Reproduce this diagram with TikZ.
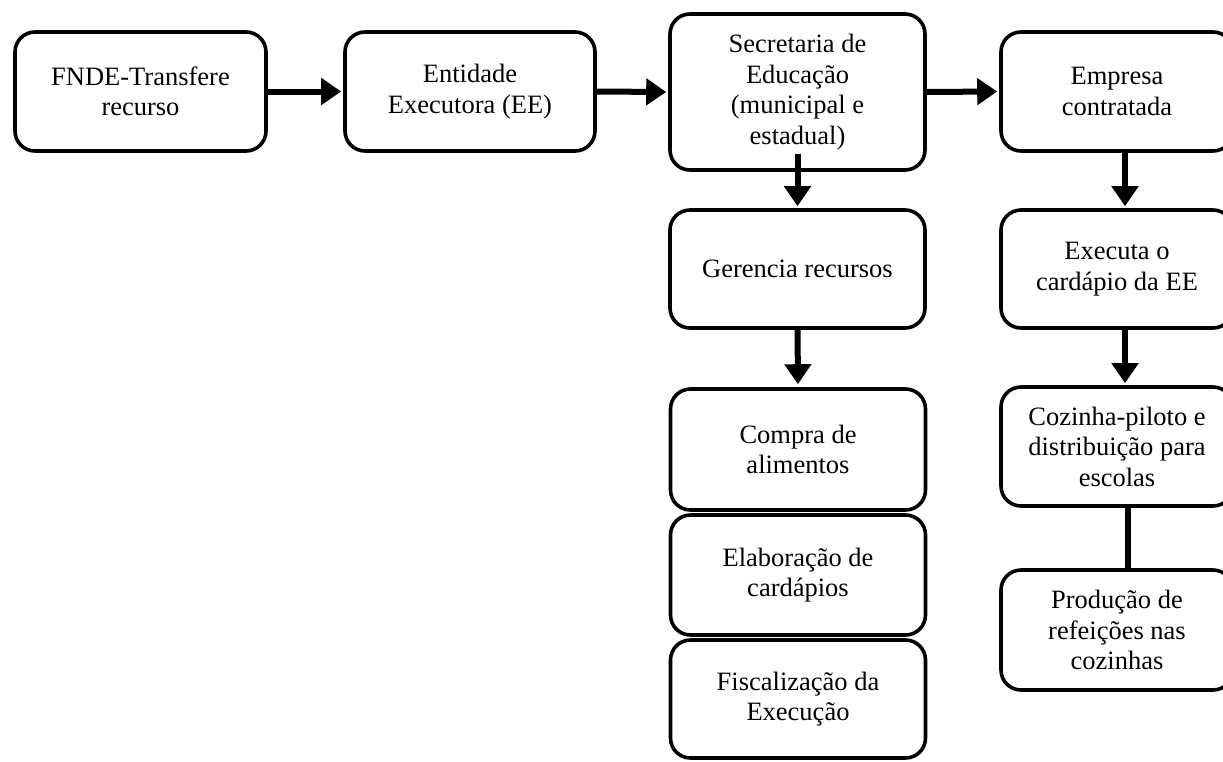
\documentclass[tikz,border=0pt]{standalone}
\usepackage{fontspec}
\setmainfont{Liberation Serif}
\usetikzlibrary{arrows.meta}
\begin{document}
\begin{tikzpicture}[x=1pt,y=-1pt,
  box/.style={draw=black,line width=3.6pt,rounded corners=20pt,align=center,
    font=\fontsize{26.5pt}{30.5pt}\selectfont,inner sep=0pt},
  flow/.style={line width=6pt,-{Triangle[length=20pt,width=26pt]}},
  link/.style={line width=6pt}]
\useasboundingbox (0,0) rectangle (1223,761);
\clip (0,0) rectangle (1223,761);
\node[box,minimum width=251pt,minimum height=119pt] (fnde) at (140.5,91.5) {FNDE-Transfere\\recurso};
\node[box,minimum width=250pt,minimum height=119pt] (ee) at (470,91.5) {Entidade\\Executora (EE)};
\node[box,minimum width=255pt,minimum height=156pt] (sec) at (797.5,92) {Secretaria de\\Educação\\(municipal e\\estadual)};
\node[box,minimum width=232pt,minimum height=119pt] (emp) at (1117,91.5) {Empresa\\contratada};
\node[box,minimum width=255pt,minimum height=118pt] (ger) at (797.5,269) {Gerencia recursos};
\node[box,minimum width=255pt,minimum height=121pt] (compra) at (798,449.5) {Compra de\\alimentos};
\node[box,minimum width=255pt,minimum height=120pt] (elab) at (798,575) {Elaboração de\\cardápios};
\node[box,minimum width=255pt,minimum height=118pt] (fisc) at (798,699) {Fiscalização da\\Execução};
\node[box,minimum width=232pt,minimum height=118pt] (exec) at (1117,269) {Executa o\\cardápio da EE};
\node[box,minimum width=232pt,minimum height=119pt] (coz) at (1117,446.5) {Cozinha-piloto e\\distribuição para\\escolas};
\node[box,minimum width=232pt,minimum height=120pt] (prod) at (1117,630) {Produção de\\refeições nas\\cozinhas};
\draw[flow] (fnde.east) -- ([xshift=-2pt]ee.west);
\draw[flow] (ee.east) -- ([xshift=-2pt]sec.west);
\draw[flow] (sec.east) -- ([xshift=-2pt]emp.west);
\draw[flow] ([yshift=18pt]sec.south) -- ([yshift=2pt]ger.north);
\draw[flow] (ger.south) -- ([yshift=3pt]compra.north);
\draw[flow] ([xshift=8pt]emp.south) -- ([xshift=8pt,yshift=2pt]exec.north);
\draw[flow] ([xshift=8pt]exec.south) -- ([xshift=8pt,yshift=2pt]coz.north);
\draw[link] ([xshift=11pt]coz.south) -- ([xshift=11pt]prod.north);
\end{tikzpicture}
\end{document}
